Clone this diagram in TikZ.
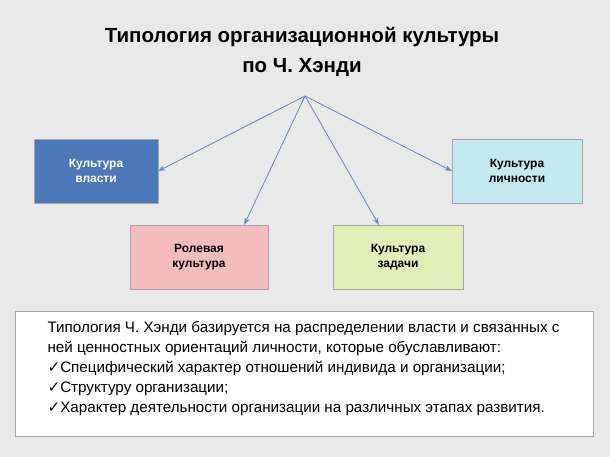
\documentclass[tikz,border=0pt]{standalone}
\usepackage{fontspec}
\setmainfont{Liberation Sans}
\newfontfamily\symfont{DejaVu Sans}
\usetikzlibrary{arrows.meta}
\definecolor{bgcol}{HTML}{E9E9E9}
\definecolor{powercol}{HTML}{4A78B8}
\definecolor{rolecol}{HTML}{F4BCBE}
\definecolor{taskcol}{HTML}{E2EDB8}
\definecolor{personcol}{HTML}{C4E9F0}
\definecolor{arrowcol}{HTML}{6A88B8}
\tikzset{
  typebox/.style={draw=gray!70, minimum width=128pt, minimum height=64pt, align=center,
    font=\fontsize{12}{15}\selectfont\bfseries},
  typearrow/.style={draw=arrowcol, -{Stealth[length=7pt]}, thick}
}
\begin{document}
\begin{tikzpicture}[x=1pt,y=-1pt]
\fill[bgcol] (0,0) rectangle (610,457);
\node[font=\fontsize{20.5}{30}\selectfont\bfseries, align=center] (title) at (302,52)
  {Типология организационной культуры\\по Ч. Хэнди};
\coordinate (hub) at (305,96);
\node[typebox, fill=powercol, text=white, minimum width=124pt] (power) at (96,171) {Культура\\власти};
\node[typebox, fill=rolecol, minimum width=138pt] (role) at (199,257) {Ролевая\\культура};
\node[typebox, fill=taskcol, minimum width=130pt] (task) at (398,257) {Культура\\задачи};
\node[typebox, fill=personcol, minimum width=130pt] (person) at (517,171) {Культура\\личности};
\draw[typearrow] (hub) -- (power.east);
\draw[typearrow] (hub) -- ([xshift=-24pt]role.north east);
\draw[typearrow] (hub) -- ([xshift=46pt]task.north west);
\draw[typearrow] (hub) -- (person.west);
\node[draw=gray!70, fill=white, minimum width=578pt, minimum height=125pt] (info) at (304,374) {};
\node[anchor=north west, align=left, font=\fontsize{15.2}{20}\selectfont] (text) at (44,318)
  {Типология Ч. Хэнди базируется на распределении власти и связанных с\\
   ней ценностных ориентаций личности, которые обуславливают:\\
   {\symfont ✓}Специфический характер отношений индивида и организации;\\
   {\symfont ✓}Структуру организации;\\
   {\symfont ✓}Характер деятельности организации на различных этапах развития.};
\end{tikzpicture}
\end{document}
